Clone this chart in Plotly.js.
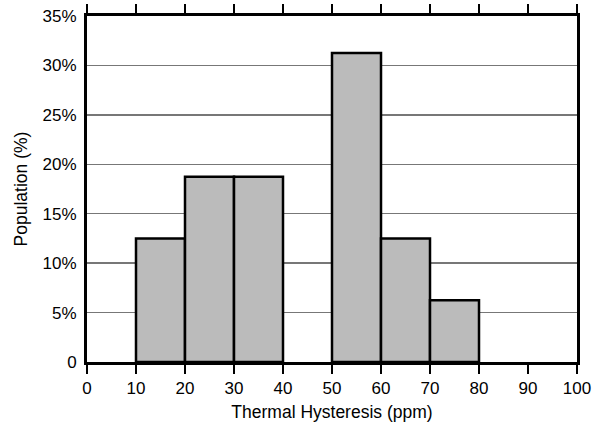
<!DOCTYPE html>
<html>
<head>
<meta charset="utf-8">
<script src="https://cdn.plot.ly/plotly-3.0.1.min.js"></script>
<style>html,body{margin:0;padding:0;background:#fff;}#chart{width:603px;height:423px;}</style>
</head>
<body>
<div id="chart"></div>
<script>
const binCenters = [15, 25, 35, 55, 65, 75];
const binWidths = [10, 10, 10, 10, 10, 10];
const population = [12.5, 18.75, 18.75, 31.25, 12.5, 6.25];
const xTickVals = [0, 10, 20, 30, 40, 50, 60, 70, 80, 90, 100];
const yTickVals = [0, 5, 10, 15, 20, 25, 30, 35];
const yTickText = ['0', '5%', '10%', '15%', '20%', '25%', '30%', '35%'];

const trace = {
  type: 'bar',
  x: binCenters,
  y: population,
  width: binWidths,
  marker: {color: '#bbbbbb', line: {color: '#000000', width: 2.5}},
  hoverinfo: 'none'
};

const layout = {
  width: 603, height: 423,
  margin: {l: 87, r: 26, t: 16, b: 61},
  paper_bgcolor: '#ffffff', plot_bgcolor: '#ffffff',
  font: {family: 'Liberation Sans, Arial, sans-serif', color: '#000000', size: 17},
  showlegend: false,
  bargap: 0,
  xaxis: {
    range: [0, 100], tickvals: xTickVals, ticktext: xTickVals.map(String),
    showgrid: false, zeroline: false,
    showline: true, linecolor: '#000000', linewidth: 3, mirror: 'ticks',
    ticks: 'outside', ticklen: 9, tickwidth: 1.5, tickcolor: '#000000',
    tickfont: {size: 17},
    title: {text: 'Thermal Hysteresis (ppm)', font: {size: 17.5}, standoff: 9}
  },
  yaxis: {
    range: [0, 35], tickvals: yTickVals, ticktext: yTickText,
    showgrid: true, gridcolor: '#777777', gridwidth: 1.5, zeroline: false,
    showline: true, linecolor: '#000000', linewidth: 3, mirror: true,
    ticks: '', ticklabelstandoff: 4, tickfont: {size: 17},
    title: {text: 'Population (%)', font: {size: 17.5}, standoff: 11}
  }
};

Plotly.newPlot('chart', [trace], layout, {staticPlot: true, displayModeBar: false});
</script>
</body>
</html>
